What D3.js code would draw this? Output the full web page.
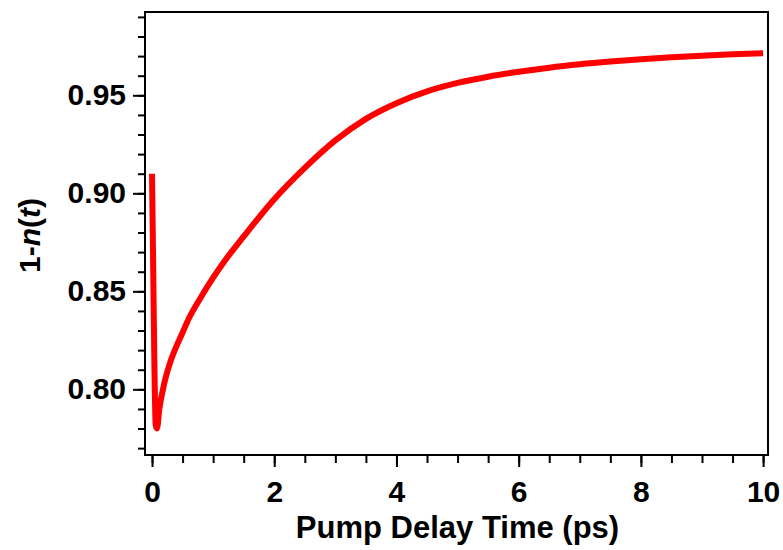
<!DOCTYPE html>
<html>
<head>
<meta charset="utf-8">
<script src="https://cdn.jsdelivr.net/npm/d3@7"></script>
<style>
  body { margin: 0; background: #fff; }
  text { font-family: "Liberation Sans", Arial, sans-serif; font-weight: bold; }
</style>
</head>
<body>
<div id="chart"></div>
<script>
// delay time (ps) and 1-n(t)
var delayTime = [0, 0.02, 0.04, 0.06, 0.08, 0.12, 0.2, 0.3, 0.4, 0.5, 0.6, 0.8, 1.0, 1.2, 1.5,
  2.0, 2.5, 3.0, 3.5, 4.0, 4.5, 5.0, 5.5, 6.0, 6.5, 7.0, 7.5, 8.0, 8.5, 9.0, 9.5, 10.0];
var oneMinusN = [0.910, 0.860, 0.810, 0.782, 0.780, 0.790, 0.803, 0.814, 0.822, 0.829, 0.836, 0.847, 0.857, 0.866, 0.878,
  0.897, 0.913, 0.927, 0.938, 0.946, 0.952, 0.9563, 0.9595, 0.9620, 0.9641, 0.9658, 0.9672, 0.9684, 0.9694, 0.9702, 0.9709, 0.9715];

var xTicks = [0, 2, 4, 6, 8, 10];
var yTicks = [0.80, 0.85, 0.90, 0.95];
var xMinor = d3.range(0, 10.01, 0.5);
var yMinor = d3.range(77, 100, 1).map(function(d) { return d / 100; });

var w = 783;
var h = 550;
var padLeft = 145, padRight = 768, padTop = 12, padBottom = 455;

var svg = d3.select("#chart")
  .append("svg")
  .attr("width", w)
  .attr("height", h);

var xScale = d3.scaleLinear()
  .domain([-0.115, 10.08])
  .range([padLeft, padRight]);

var yScale = d3.scaleLinear()
  .domain([0.7665, 0.9925])
  .range([padBottom, padTop]);

// minor ticks
svg.append("g")
  .attr("transform", "translate(0," + padBottom + ")")
  .call(d3.axisBottom(xScale).tickValues(xMinor).tickSize(8).tickFormat(""))
  .call(function(g) { g.select(".domain").remove(); });

svg.append("g")
  .attr("transform", "translate(" + padLeft + ",0)")
  .call(d3.axisLeft(yScale).tickValues(yMinor).tickSize(7).tickFormat(""))
  .call(function(g) { g.select(".domain").remove(); });

// major ticks
var xAxis = svg.append("g")
  .attr("transform", "translate(0," + padBottom + ")")
  .call(d3.axisBottom(xScale).tickValues(xTicks).tickSize(12).tickPadding(14).tickFormat(d3.format("d")));
xAxis.select(".domain").remove();

var yAxis = svg.append("g")
  .attr("transform", "translate(" + padLeft + ",0)")
  .call(d3.axisLeft(yScale).tickValues(yTicks).tickSize(12).tickPadding(7).tickFormat(d3.format(".2f")));
yAxis.select(".domain").remove();

svg.selectAll(".tick line")
  .attr("stroke", "#000")
  .attr("stroke-width", 2);

svg.selectAll(".tick text")
  .style("font-size", "30px")
  .style("font-family", "'Liberation Sans', Arial, sans-serif")
  .style("font-weight", "bold")
  .attr("fill", "#000");

// curve
var line = d3.line()
  .x(function(d, i) { return xScale(delayTime[i]); })
  .y(function(d) { return yScale(d); })
  .curve(d3.curveMonotoneX);

svg.append("path")
  .datum(oneMinusN)
  .attr("d", line)
  .attr("fill", "none")
  .attr("stroke", "#ff0000")
  .attr("stroke-width", 6)
  .attr("stroke-linejoin", "round");

// frame
svg.append("rect")
  .attr("x", padLeft)
  .attr("y", padTop)
  .attr("width", padRight - padLeft)
  .attr("height", padBottom - padTop)
  .attr("fill", "none")
  .attr("stroke", "#000")
  .attr("stroke-width", 2);

// titles
svg.append("text")
  .attr("x", (padLeft + padRight) / 2 + 1)
  .attr("y", 538)
  .attr("text-anchor", "middle")
  .style("font-size", "31px")
  .text("Pump Delay Time (ps)");

var yTitle = svg.append("text")
  .attr("transform", "translate(40," + ((padTop + padBottom) / 2 + 2) + ") rotate(-90)")
  .attr("text-anchor", "middle")
  .style("font-size", "30px");
yTitle.append("tspan").text("1-");
yTitle.append("tspan").style("font-style", "italic").text("n");
yTitle.append("tspan").text("(");
yTitle.append("tspan").style("font-style", "italic").text("t");
yTitle.append("tspan").text(")");
</script>
</body>
</html>
